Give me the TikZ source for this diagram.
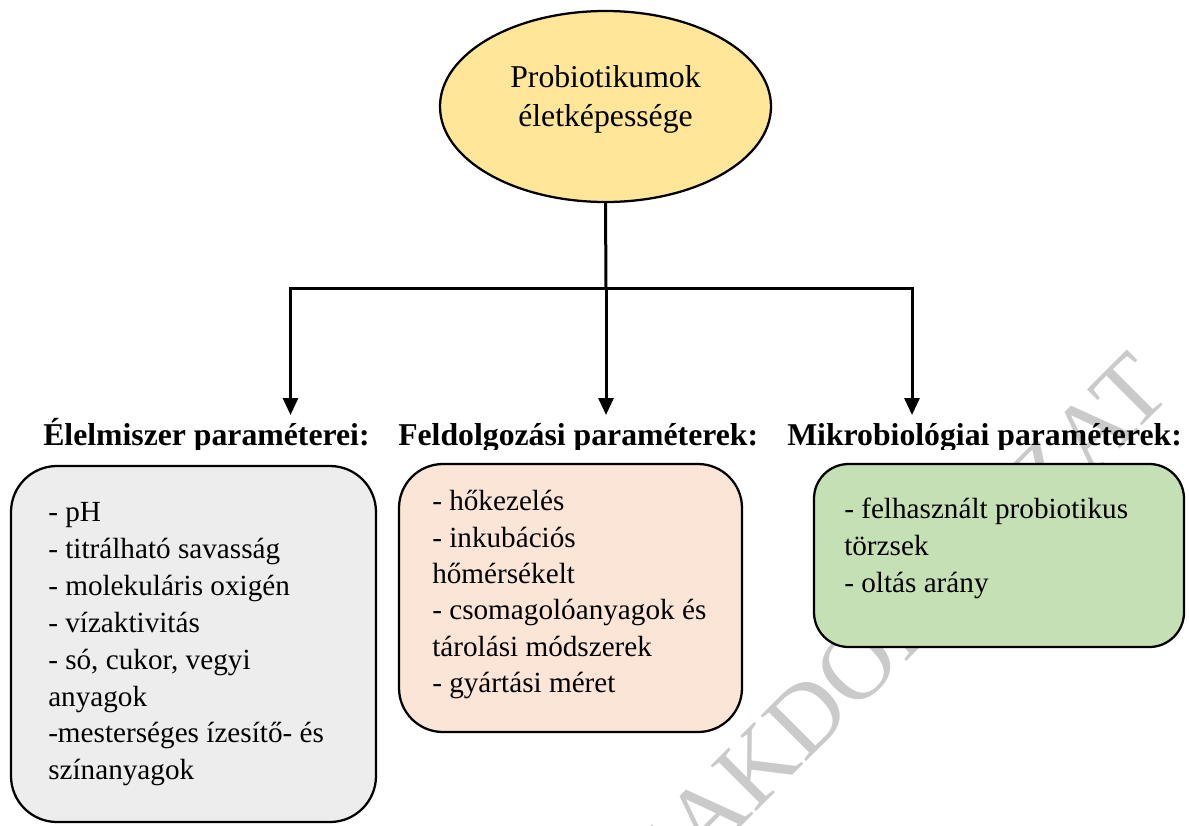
\documentclass[tikz,border=0pt]{standalone}
\usepackage{fontspec}
\setmainfont{Liberation Serif}
\usetikzlibrary{arrows.meta,shapes.geometric}
\definecolor{ellfill}{HTML}{FFE699}
\definecolor{grayfill}{HTML}{EDEDED}
\definecolor{peachfill}{HTML}{FBE5D6}
\definecolor{greenfill}{HTML}{C5E0B4}
\definecolor{wmgray}{HTML}{CACACA}
\begin{document}
\begin{tikzpicture}[x=0.75pt,y=-0.75pt,
  conn/.style={line width=2.25pt},
  arr/.style={conn,-{Triangle[length=12.75pt,width=11.25pt]}},
  boxstyle/.style={draw,line width=1.7pt,rectangle,inner sep=0pt},
  body/.style={anchor=base west,inner sep=0pt,font=\fontsize{21.9}{27}\selectfont},
  head/.style={anchor=base west,inner sep=0pt,font=\fontsize{23.8}{30}\selectfont\bfseries},
  ttl/.style={anchor=base,inner sep=0pt,font=\fontsize{23.8}{30}\selectfont},
  wm/.style={rotate=45,text=wmgray,inner sep=0pt,font=\fontsize{73.5}{80}\selectfont}]
\useasboundingbox (0,0) rectangle (1189,825);
% watermark
\node[wm] (wm) at (876,647) {SZAKDOLGOZAT};
% root ellipse
\node[draw,ellipse,line width=1.7pt,fill=ellfill,minimum width=248.25pt,minimum height=143.25pt,inner sep=0pt] (root) at (605.5,106.5) {};
\node[ttl] (rt1) at (605.5,87.3) {Probiotikumok};
\node[ttl] (rt2) at (605.5,126.7) {életképessége};
% connectors
\coordinate (j) at (606,288.5);
\coordinate (e1) at (290.5,415);
\coordinate (e2) at (606,415);
\coordinate (e3) at (912,415);
\draw[conn] (root.south) -- (j);
\draw[arr] (j) -| (e1);
\draw[arr] (j) -| (e3);
\draw[arr] (j) -- (e2);
% headings (clipped at bottom as in the original)
\begin{scope}
\clip (0,0) rectangle (1189,449.5);
\node[head] (h1) at (43,445.5) {Élelmiszer paraméterei:};
\node[head] (h2) at (398,445.5) {Feldolgozási paraméterek:};
\node[head] (h3) at (787,445.5) {Mikrobiológiai paraméterek:};
\end{scope}
% boxes
\node[boxstyle,fill=grayfill,rounded corners=34.5pt,minimum width=273.75pt,minimum height=267pt] (boxa) at (193.5,644) {};
\node[boxstyle,fill=peachfill,rounded corners=33pt,minimum width=257.25pt,minimum height=201pt] (boxb) at (570.5,598) {};
\node[boxstyle,fill=greenfill,rounded corners=26pt,minimum width=277.5pt,minimum height=137.25pt] (boxc) at (999,555.5) {};
% left box text
\node[body] (a1) at (48,521.5) {- pH};
\node[body] (a2) at (48,558.4) {- titrálható savasság};
\node[body] (a3) at (48,595.3) {- molekuláris oxigén};
\node[body] (a4) at (48,632.2) {- vízaktivitás};
\node[body] (a5) at (48,669.1) {- só, cukor, vegyi};
\node[body] (a6) at (48,706.0) {anyagok};
\node[body] (a7) at (48,742.9) {-mesterséges ízesítő- és};
\node[body] (a8) at (48,779.8) {színanyagok};
% middle box text
\node[body] (b1) at (432,510.7) {- hőkezelés};
\node[body] (b2) at (432,547.1) {- inkubációs};
\node[body] (b3) at (432,583.5) {hőmérsékelt};
\node[body] (b4) at (432,619.9) {- csomagolóanyagok és};
\node[body] (b5) at (432,656.3) {tárolási módszerek};
\node[body] (b6) at (432,692.7) {- gyártási méret};
% right box text
\node[body] (c1) at (844,518.3) {- felhasznált probiotikus};
\node[body] (c2) at (844,555.5) {törzsek};
\node[body] (c3) at (844,592.7) {- oltás arány};
\end{tikzpicture}
\end{document}
